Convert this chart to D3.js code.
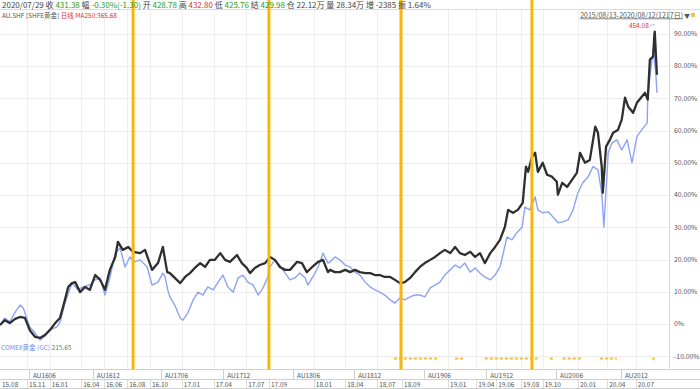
<!DOCTYPE html>
<html><head><meta charset="utf-8">
<script src="https://cdn.jsdelivr.net/npm/d3@7"></script>
<style>body{margin:0;background:#fff;}svg{display:block;font-family:"Noto Sans CJK SC","Noto Sans",sans-serif;}</style>
</head><body><svg id="c" width="700" height="389"></svg>
<script>
// trading-day index since 2015/08/13, % change
const shfe = [[0,-0.3],[9,1.2],[18,0.3],[28,1.6],[37,2.2],[46,1.9],[55,-1.9],[65,-4.0],[74,-4.3],[83,-3.4],[92,-1.9],[102,0.3],[111,1.9],[120,7.5],[126,11.5],[133,12.7],[139,13.0],[148,9.9],[157,11.5],[166,10.6],[176,15.2],[185,13.7],[194,10.6],[203,16.8],[213,20.8],[218,25.5],[227,23.0],[237,23.9],[246,22.4],[259,22.0],[268,23.0],[281,16.8],[292,18.9],[301,23.9],[309,16.1],[314,15.8],[323,14.3],[333,12.7],[342,14.6],[351,15.8],[360,17.4],[370,18.9],[379,17.7],[388,19.9],[397,19.9],[407,22.0],[416,19.9],[425,19.3],[438,21.4],[447,18.9],[456,17.4],[462,15.8],[471,17.4],[480,18.3],[490,18.9],[499,20.8],[508,19.9],[517,17.7],[527,16.8],[536,16.8],[549,19.3],[558,18.9],[567,16.1],[577,17.7],[588,19.3],[597,19.9],[606,16.1],[610,16.8],[619,16.1],[628,16.1],[638,16.8],[647,16.1],[656,16.8],[665,16.1],[675,15.8],[684,15.8],[693,15.2],[702,15.2],[711,14.6],[721,14.6],[730,13.7],[739,12.7],[748,13.0],[758,14.3],[767,16.1],[776,17.7],[785,18.9],[795,19.9],[804,20.8],[813,22.0],[822,23.0],[832,22.0],[841,23.9],[850,22.0],[859,21.4],[869,22.4],[878,20.8],[887,22.0],[896,18.9],[906,22.0],[915,23.9],[924,26.1],[933,30.1],[939,35.4],[948,34.5],[957,35.4],[966,37.6],[972,48.8],[976,47.2],[983,51.9],[989,53.1],[994,47.2],[1003,50.0],[1011,46.3],[1020,45.7],[1029,44.1],[1031,40.1],[1039,43.8],[1048,42.5],[1057,44.7],[1066,46.9],[1072,53.1],[1081,50.0],[1090,50.9],[1100,61.2],[1105,59.3],[1112,48.8],[1114,40.7],[1120,55.0],[1127,57.1],[1133,59.3],[1142,60.2],[1149,63.4],[1155,70.2],[1161,67.4],[1170,65.5],[1177,68.6],[1186,70.5],[1192,71.7],[1197,69.6],[1201,82.0],[1207,82.9],[1209,89.1],[1210,90.7],[1214,77.3]];
const comex = [[0,-0.3],[9,1.9],[18,0.6],[28,3.7],[37,5.9],[43,5.0],[55,-0.9],[65,-2.8],[74,-5.0],[83,-3.7],[92,-1.9],[105,-0.9],[111,0.6],[120,6.5],[133,12.7],[144,10.6],[153,11.5],[166,12.1],[176,13.7],[185,14.3],[194,9.0],[203,14.3],[213,22.0],[222,23.6],[231,17.7],[240,20.8],[249,19.3],[259,19.9],[272,17.7],[281,12.1],[292,13.0],[301,15.8],[305,14.6],[310,10.6],[314,8.4],[323,5.9],[333,1.9],[338,1.2],[347,3.4],[357,7.5],[366,9.9],[375,9.0],[384,11.5],[394,10.6],[403,13.0],[412,15.2],[421,11.5],[431,9.9],[440,14.3],[449,15.2],[458,13.0],[468,12.1],[477,9.0],[486,11.2],[495,14.6],[499,17.7],[508,19.9],[517,18.3],[527,15.8],[536,13.7],[545,14.3],[554,15.8],[564,14.3],[569,12.1],[578,14.6],[588,17.7],[597,22.0],[606,18.9],[610,19.3],[619,20.8],[628,19.9],[638,18.3],[647,17.7],[656,16.1],[665,15.2],[675,13.0],[684,11.5],[693,10.6],[702,9.9],[711,9.0],[721,7.5],[730,6.5],[739,8.1],[748,7.5],[758,8.4],[767,9.0],[776,9.0],[785,8.4],[795,11.2],[804,12.1],[813,13.0],[822,15.2],[832,16.8],[841,18.3],[850,17.4],[859,18.9],[869,16.1],[878,17.4],[887,15.8],[896,14.6],[906,13.7],[915,15.2],[924,17.7],[937,27.0],[946,26.1],[955,28.3],[965,30.1],[970,36.3],[979,35.4],[989,39.4],[994,35.4],[1003,34.5],[1013,34.8],[1022,33.2],[1031,31.4],[1040,31.7],[1050,32.3],[1059,35.4],[1068,40.7],[1077,43.8],[1087,45.7],[1096,48.8],[1105,47.8],[1112,40.7],[1116,30.1],[1124,53.1],[1131,56.2],[1140,57.1],[1149,54.0],[1159,57.1],[1168,50.0],[1177,58.1],[1186,60.2],[1196,62.4],[1197,69.6],[1201,76.7],[1205,82.0],[1207,85.1],[1212,77.9],[1214,71.7]];
const yTicks = [-10,0,10,20,30,40,50,60,70,80,90];
const dateTickDays = [0,50,92,150,192,235,277,336,395,455,497,580,638,697,743,828,880,917,963,1003,1068,1122,1175];
const dateTickLabels = ["15.08","15.11","16.01","16.04","16.06","16.08","16.10","17.01","17.04","17.07","17.09","18.01","18.04","18.07","18.09","19.01","19.04","19.06","19.08","19.10","20.01","20.04","20.07"];
const contractDays = [61,179,305,420,549,662,791,906,1035,1155];
const contractLabels = ["AU1606","AU1612","AU1706","AU1712","AU1806","AU1812","AU1906","AU1912","AU2006","AU2012"];
const markerDays = [246,497,741,983];
const signalRanges = [[728,808],[841,859],[896,994],[1016,1022],[1040,1077],[1109,1140],[1205,1210]];
const headerItems = [["2020/07/29",""],["收","431.38"],["幅","-0.30%(-1.30)"],["开","428.78"],["高","432.80"],["低","425.76"],["结","429.98"],["仓","22.12万"],["量","28.34万"],["增","-2385"],["振","1.64%"]];
const headerColors = ["#333","#1f9a2a","#1f9a2a","#1f9a2a","#e0302d","#1f9a2a","#1f9a2a","#444","#444","#444","#444"];
const peakValue = "454.08";

const svg = d3.select("#c");
const W = 700;
const x = d3.scaleLinear().domain([0,1216]).range([0,658]);
const y = d3.scaleLinear().domain([-10,90]).range([356.3,33.8]);
const axisX = 669.5, plotTop = 10, plotBot = 369.5;

// gridlines
svg.append("g").selectAll("line").data(yTicks).join("line")
  .attr("x1",0).attr("x2",axisX).attr("y1",d=>Math.round(y(d))+0.5).attr("y2",d=>Math.round(y(d))+0.5)
  .attr("stroke","#ececec").attr("stroke-width",1);
svg.append("g").selectAll("line").data(dateTickDays.slice(1)).join("line")
  .attr("x1",d=>Math.round(x(d))+0.5).attr("x2",d=>Math.round(x(d))+0.5).attr("y1",plotTop).attr("y2",plotBot)
  .attr("stroke","#efefef");

// header separator
svg.append("line").attr("x1",0).attr("x2",W).attr("y1",9.5).attr("y2",9.5).attr("stroke","#dcdcdc");
// right axis line
svg.append("line").attr("x1",axisX).attr("x2",axisX).attr("y1",plotTop).attr("y2",plotBot).attr("stroke","#d6d6d6");
// right axis labels
svg.append("g").selectAll("text").data(yTicks).join("text")
  .attr("x",674).attr("y",d=>y(d)).attr("dy","0.35em").attr("font-size",6.8).attr("fill","#555")
  .text(d=>d===0?"0%":d.toFixed(2)+"%");

// bottom rows
[369.5,379.5,388.5].forEach(v=>svg.append("line").attr("x1",0).attr("x2",W).attr("y1",v).attr("y2",v).attr("stroke","#d0d0d0"));
svg.append("g").selectAll("line").data(contractDays).join("line")
  .attr("x1",d=>Math.round(x(d))-3.5).attr("x2",d=>Math.round(x(d))-3.5).attr("y1",369.5).attr("y2",379.5).attr("stroke","#d0d0d0");
svg.append("g").selectAll("text").data(contractLabels).join("text")
  .attr("x",(d,i)=>x(contractDays[i])).attr("y",377.5).attr("font-size",6.5).attr("fill","#555").text(d=>d);
svg.append("g").selectAll("line").data(dateTickDays.slice(1)).join("line")
  .attr("x1",d=>Math.round(x(d))+0.5).attr("x2",d=>Math.round(x(d))+0.5).attr("y1",379.5).attr("y2",388.5)
  .attr("stroke","#bbb").attr("stroke-dasharray","1,1");
svg.append("g").selectAll("text").data(dateTickLabels).join("text")
  .attr("x",(d,i)=>x(dateTickDays[i])+2).attr("y",387).attr("font-size",6.5).attr("fill","#555").text(d=>d);

// series
const line = d3.line().x(d=>x(d[0])).y(d=>y(d[1]));
svg.append("path").datum(comex).attr("d",line).attr("fill","none").attr("stroke","#8ea3f2").attr("stroke-width",1.4).attr("stroke-linejoin","round");
svg.append("path").datum(shfe).attr("d",line).attr("fill","none").attr("stroke","#2f2f2f").attr("stroke-width",2.3).attr("stroke-linejoin","round");

// signal dashes
svg.append("g").selectAll("line").data(signalRanges).join("line")
  .attr("x1",d=>x(d[0])).attr("x2",d=>x(d[1])).attr("y1",y(-10.7)).attr("y2",y(-10.7))
  .attr("stroke","#f6b93b").attr("stroke-width",2).attr("stroke-dasharray","3,2");

// orange vertical markers
svg.append("g").selectAll("line").data(markerDays).join("line")
  .attr("x1",d=>x(d)).attr("x2",d=>x(d)).attr("y1",0).attr("y2",plotBot)
  .attr("stroke","#f8b70a").attr("stroke-width",3);

// header row 1
const h1 = svg.append("text").attr("x",2).attr("y",7.8).attr("font-size",8).attr("fill","#444");
headerItems.forEach((it,i)=>{
  h1.append("tspan").attr("fill","#444").text((i?"  ":"")+it[0]+(it[1]?" ":""));
  if(it[1]) h1.append("tspan").attr("fill",headerColors[i]).text(it[1]);
});
// header row 2
const h2 = svg.append("text").attr("x",2).attr("y",17.5).attr("font-size",6.5).attr("fill","#555");
h2.append("tspan").text("AU.SHF [SHFE黄金] ");
h2.append("tspan").attr("fill","#e0302d").text("日线 MA250:365.68");
// date range
svg.append("text").attr("x",683).attr("y",17.5).attr("text-anchor","end").attr("font-size",7).attr("fill","#555")
  .attr("text-decoration","underline").text("2015/08/13-2020/08/12(1217日)");
svg.append("text").attr("x",684).attr("y",17.5).attr("font-size",6).attr("fill","#555").text("▼");
svg.append("rect").attr("x",691).attr("y",13).attr("width",4).attr("height",4).attr("fill","#f3c14b");

// peak label
const peak = shfe.reduce((a,b)=>b[1]>a[1]?b:a);
svg.append("text").attr("x",x(peak[0])-6).attr("y",y(peak[1])-4).attr("text-anchor","end")
  .attr("font-size",6.5).attr("fill","#e0302d").text(peakValue);
svg.append("line").attr("x1",x(peak[0])-5).attr("x2",x(peak[0])).attr("y1",y(peak[1])-6).attr("y2",y(peak[1])-7)
  .attr("stroke","#8ea3f2").attr("stroke-width",0.8);

// bottom-left comex label
const cl = svg.append("text").attr("x",1).attr("y",350).attr("font-size",6.5);
cl.append("tspan").attr("fill","#6f86e8").text("COMEX黄金 (GC) ");
cl.append("tspan").attr("fill","#2a9a6a").text("215.65");
</script></body></html>
